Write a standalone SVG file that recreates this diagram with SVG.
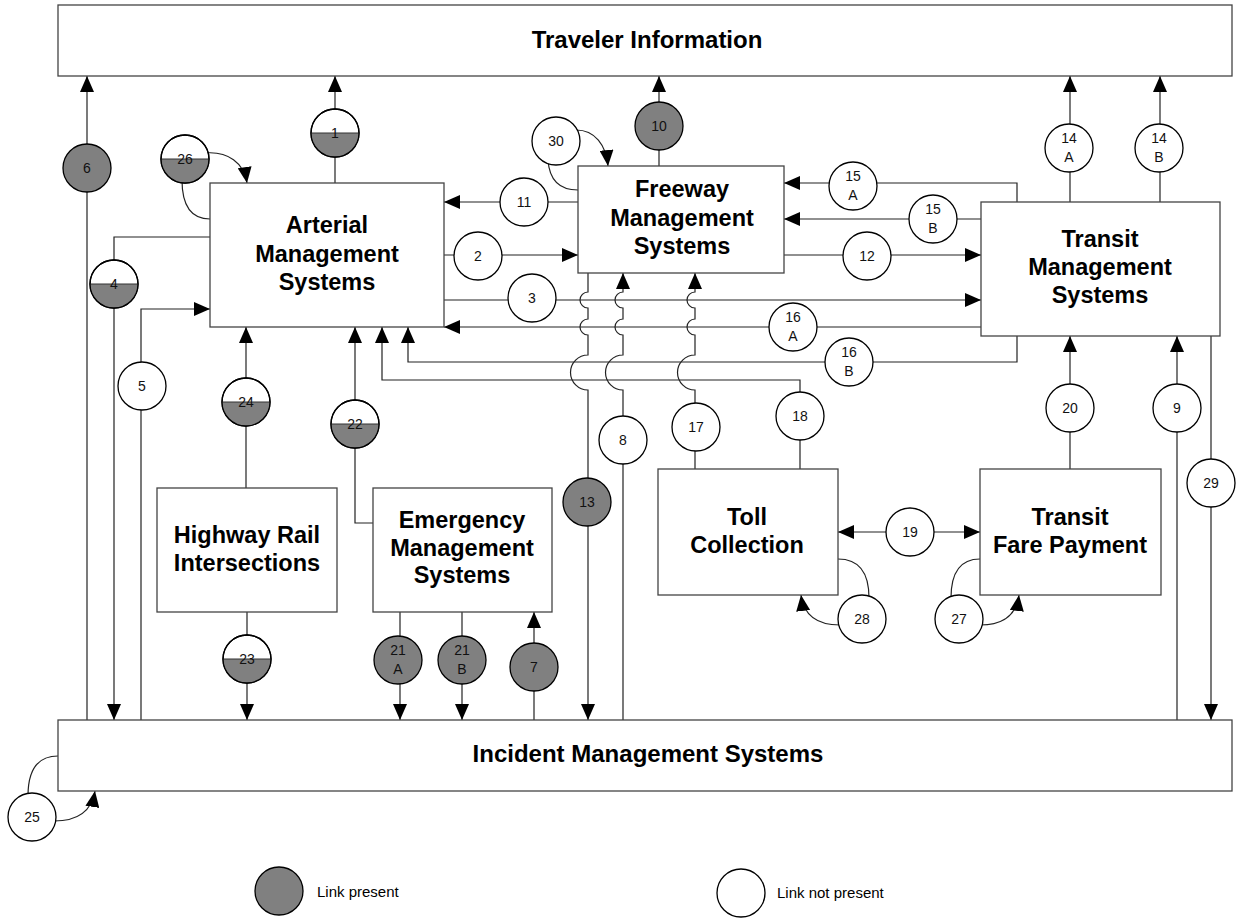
<svg xmlns="http://www.w3.org/2000/svg" width="1243" height="920" viewBox="0 0 1243 920">
<style>
.box{fill:#fff;stroke:#444;stroke-width:1.3}
.bt{font-family:"Liberation Sans",Arial,sans-serif;font-weight:bold;font-size:23.5px;fill:#000;text-anchor:middle}
.c{fill:none;stroke:#222;stroke-width:1.2}
.ce{fill:#fff;stroke:#000;stroke-width:1.3}
.cd{fill:#808080;stroke:#000;stroke-width:1.3}
.hf{fill:#808080;stroke:none}
.hl{stroke:#333;stroke-width:1.2}
.lt{font-family:"Liberation Sans",Arial,sans-serif;font-size:14px;fill:#111;text-anchor:middle}
.lg{font-family:"Liberation Sans",Arial,sans-serif;font-size:15px;fill:#000}
</style>
<defs>
<marker id="ah" markerWidth="16" markerHeight="14" refX="16" refY="7" orient="auto-start-reverse" markerUnits="userSpaceOnUse"><path d="M0,0 L16,7 L0,14 z" fill="#000"/></marker>
</defs>
<rect width="1243" height="920" fill="#fff"/>

<g id="connectors">
<path class="c" d="M87,720 V76" marker-end="url(#ah)"/>
<path class="c" d="M335,183 V76" marker-end="url(#ah)"/>
<path class="c" d="M205,153 C228,151 244,163 247,183" marker-end="url(#ah)"/>
<path class="c" d="M182,180 Q182,219 210,219"/>
<path class="c" d="M210,237 H114 V720" marker-end="url(#ah)"/>
<path class="c" d="M141,720 V309 H210" marker-end="url(#ah)"/>
<path class="c" d="M246,488 V327" marker-end="url(#ah)"/>
<path class="c" d="M373,523 H355 V327" marker-end="url(#ah)"/>
<path class="c" d="M800,469 V380 H382 V327" marker-end="url(#ah)"/>
<path class="c" d="M1017,336 V362 H408 V327" marker-end="url(#ah)"/>
<path class="c" d="M578,202 H444" marker-end="url(#ah)"/>
<path class="c" d="M444,255 H578" marker-end="url(#ah)"/>
<path class="c" d="M444,300 H981" marker-end="url(#ah)"/>
<path class="c" d="M981,327 H444" marker-end="url(#ah)"/>
<path class="c" d="M576,130 C595,130 606,145 608,166" marker-end="url(#ah)"/>
<path class="c" d="M548,160 Q550,190 578,190"/>
<path class="c" d="M659,166 V76" marker-end="url(#ah)"/>
<path class="c" d="M784,255 H981" marker-end="url(#ah)"/>
<path class="c" d="M1017,202 V183 H784" marker-end="url(#ah)"/>
<path class="c" d="M981,219 H784" marker-end="url(#ah)"/>
<path class="c" d="M1070,202 V76" marker-end="url(#ah)"/>
<path class="c" d="M1160,202 V76" marker-end="url(#ah)"/>
<path class="c" d="M588,273 V292 A8,8 0 0 0 588,308 V319 A8,8 0 0 0 588,335 V355 A17.5,17.5 0 0 0 588,390 V720" marker-end="url(#ah)"/>
<path class="c" d="M623,720 V390 A17.5,17.5 0 0 1 623,355 V335 A8,8 0 0 1 623,319 V308 A8,8 0 0 1 623,292 V273" marker-end="url(#ah)"/>
<path class="c" d="M695,469 V390 A17.5,17.5 0 0 1 695,355 V335 A8,8 0 0 1 695,319 V308 A8,8 0 0 1 695,292 V273" marker-end="url(#ah)"/>
<path class="c" d="M1070,469 V336" marker-end="url(#ah)"/>
<path class="c" d="M1177,720 V336" marker-end="url(#ah)"/>
<path class="c" d="M1211,336 V720" marker-end="url(#ah)"/>
<path class="c" d="M838,532 H980" marker-start="url(#ah)" marker-end="url(#ah)"/>
<path class="c" d="M869,598 Q869,559 838,559"/>
<path class="c" d="M840,625 Q805,625 801,595" marker-end="url(#ah)"/>
<path class="c" d="M951,598 Q951,559 980,559"/>
<path class="c" d="M980,625 Q1015,625 1019,595" marker-end="url(#ah)"/>
<path class="c" d="M534,720 V612" marker-end="url(#ah)"/>
<path class="c" d="M400,612 V720" marker-end="url(#ah)"/>
<path class="c" d="M462,612 V720" marker-end="url(#ah)"/>
<path class="c" d="M247,612 V720" marker-end="url(#ah)"/>
<path class="c" d="M28,796 Q28,756 58,756"/>
<path class="c" d="M54,821 Q90,821 95,791" marker-end="url(#ah)"/>
</g>

<g id="link-labels">
<g id="l6"><circle class="cd" cx="87" cy="168" r="24"/><text class="lt" x="87" y="173">6</text></g>
<g id="l1"><circle class="ce" cx="335" cy="133" r="24"/><path class="hf" d="M311,133 A24,24 0 0 0 359,133 Z"/><line class="hl" x1="311" y1="133" x2="359" y2="133"/><circle cx="335" cy="133" r="24" fill="none" stroke="#000" stroke-width="1.3"/><text class="lt" x="335" y="138">1</text></g>
<g id="l26"><circle class="ce" cx="185" cy="159" r="24"/><path class="hf" d="M161,159 A24,24 0 0 0 209,159 Z"/><line class="hl" x1="161" y1="159" x2="209" y2="159"/><circle cx="185" cy="159" r="24" fill="none" stroke="#000" stroke-width="1.3"/><text class="lt" x="185" y="164">26</text></g>
<g id="l4"><circle class="ce" cx="114" cy="284" r="24"/><path class="hf" d="M90,284 A24,24 0 0 0 138,284 Z"/><line class="hl" x1="90" y1="284" x2="138" y2="284"/><circle cx="114" cy="284" r="24" fill="none" stroke="#000" stroke-width="1.3"/><text class="lt" x="114" y="289">4</text></g>
<g id="l5"><circle class="ce" cx="142" cy="386" r="24"/><text class="lt" x="142" y="391">5</text></g>
<g id="l24"><circle class="ce" cx="246" cy="402" r="24"/><path class="hf" d="M222,402 A24,24 0 0 0 270,402 Z"/><line class="hl" x1="222" y1="402" x2="270" y2="402"/><circle cx="246" cy="402" r="24" fill="none" stroke="#000" stroke-width="1.3"/><text class="lt" x="246" y="407">24</text></g>
<g id="l22"><circle class="ce" cx="355" cy="424" r="24"/><path class="hf" d="M331,424 A24,24 0 0 0 379,424 Z"/><line class="hl" x1="331" y1="424" x2="379" y2="424"/><circle cx="355" cy="424" r="24" fill="none" stroke="#000" stroke-width="1.3"/><text class="lt" x="355" y="429">22</text></g>
<g id="l23"><circle class="ce" cx="247" cy="659" r="24"/><path class="hf" d="M223,659 A24,24 0 0 0 271,659 Z"/><line class="hl" x1="223" y1="659" x2="271" y2="659"/><circle cx="247" cy="659" r="24" fill="none" stroke="#000" stroke-width="1.3"/><text class="lt" x="247" y="664">23</text></g>
<g id="l11"><circle class="ce" cx="524" cy="202" r="24"/><text class="lt" x="524" y="207">11</text></g>
<g id="l2"><circle class="ce" cx="478" cy="256" r="24"/><text class="lt" x="478" y="261">2</text></g>
<g id="l3"><circle class="ce" cx="532" cy="298" r="24"/><text class="lt" x="532" y="303">3</text></g>
<g id="l30"><circle class="ce" cx="556" cy="141" r="24"/><text class="lt" x="556" y="146">30</text></g>
<g id="l10"><circle class="cd" cx="659" cy="126" r="24"/><text class="lt" x="659" y="131">10</text></g>
<g id="l12"><circle class="ce" cx="867" cy="256" r="24"/><text class="lt" x="867" y="261">12</text></g>
<g id="l15a"><circle class="ce" cx="853" cy="186" r="24"/><text class="lt" x="853" y="181">15</text><text class="lt" x="853" y="200">A</text></g>
<g id="l15b"><circle class="ce" cx="933" cy="219" r="24"/><text class="lt" x="933" y="214">15</text><text class="lt" x="933" y="233">B</text></g>
<g id="l16a"><circle class="ce" cx="793" cy="327" r="24"/><text class="lt" x="793" y="322">16</text><text class="lt" x="793" y="341">A</text></g>
<g id="l16b"><circle class="ce" cx="849" cy="362" r="24"/><text class="lt" x="849" y="357">16</text><text class="lt" x="849" y="376">B</text></g>
<g id="l14a"><circle class="ce" cx="1069" cy="148" r="24"/><text class="lt" x="1069" y="143">14</text><text class="lt" x="1069" y="162">A</text></g>
<g id="l14b"><circle class="ce" cx="1159" cy="148" r="24"/><text class="lt" x="1159" y="143">14</text><text class="lt" x="1159" y="162">B</text></g>
<g id="l13"><circle class="cd" cx="587" cy="502" r="24"/><text class="lt" x="587" y="507">13</text></g>
<g id="l8"><circle class="ce" cx="623" cy="440" r="24"/><text class="lt" x="623" y="445">8</text></g>
<g id="l17"><circle class="ce" cx="696" cy="427" r="24"/><text class="lt" x="696" y="432">17</text></g>
<g id="l18"><circle class="ce" cx="800" cy="416" r="24"/><text class="lt" x="800" y="421">18</text></g>
<g id="l20"><circle class="ce" cx="1070" cy="408" r="24"/><text class="lt" x="1070" y="413">20</text></g>
<g id="l9"><circle class="ce" cx="1177" cy="408" r="24"/><text class="lt" x="1177" y="413">9</text></g>
<g id="l29"><circle class="ce" cx="1211" cy="483" r="24"/><text class="lt" x="1211" y="488">29</text></g>
<g id="l19"><circle class="ce" cx="910" cy="532" r="24"/><text class="lt" x="910" y="537">19</text></g>
<g id="l28"><circle class="ce" cx="862" cy="619" r="24"/><text class="lt" x="862" y="624">28</text></g>
<g id="l27"><circle class="ce" cx="959" cy="619" r="24"/><text class="lt" x="959" y="624">27</text></g>
<g id="l7"><circle class="cd" cx="534" cy="667" r="24"/><text class="lt" x="534" y="672">7</text></g>
<g id="l21a"><circle class="cd" cx="398" cy="660" r="24"/><text class="lt" x="398" y="655">21</text><text class="lt" x="398" y="674">A</text></g>
<g id="l21b"><circle class="cd" cx="462" cy="660" r="24"/><text class="lt" x="462" y="655">21</text><text class="lt" x="462" y="674">B</text></g>
<g id="l25"><circle class="ce" cx="32" cy="817" r="24"/><text class="lt" x="32" y="822">25</text></g>
</g>

<g id="traveler-information"><rect class="box" x="58" y="5" width="1174" height="71"/><text class="bt" x="647" y="48" style="font-size:24px">Traveler Information</text></g>
<g id="arterial"><rect class="box" x="210" y="183" width="234" height="144"/><text class="bt" x="327" y="233">Arterial</text><text class="bt" x="327" y="262">Management</text><text class="bt" x="327" y="290">Systems</text></g>
<g id="freeway"><rect class="box" x="578" y="166" width="206" height="107"/><text class="bt" x="682" y="197">Freeway</text><text class="bt" x="682" y="226">Management</text><text class="bt" x="682" y="254">Systems</text></g>
<g id="transit-mgmt"><rect class="box" x="981" y="202" width="239" height="134"/><text class="bt" x="1100" y="247">Transit</text><text class="bt" x="1100" y="275">Management</text><text class="bt" x="1100" y="303">Systems</text></g>
<g id="highway-rail"><rect class="box" x="157" y="488" width="180" height="124"/><text class="bt" x="247" y="543">Highway Rail</text><text class="bt" x="247" y="571">Intersections</text></g>
<g id="emergency"><rect class="box" x="373" y="488" width="179" height="124"/><text class="bt" x="462" y="528">Emergency</text><text class="bt" x="462" y="556">Management</text><text class="bt" x="462" y="583">Systems</text></g>
<g id="toll"><rect class="box" x="658" y="469" width="180" height="126"/><text class="bt" x="747" y="525">Toll</text><text class="bt" x="747" y="553">Collection</text></g>
<g id="transit-fare"><rect class="box" x="980" y="469" width="181" height="126"/><text class="bt" x="1070" y="525">Transit</text><text class="bt" x="1070" y="553">Fare Payment</text></g>
<g id="incident"><rect class="box" x="58" y="720" width="1174" height="71"/><text class="bt" x="648" y="762" style="font-size:24px">Incident Management Systems</text></g>

<g id="legend">
<circle class="cd" cx="279" cy="891" r="24"/><text class="lg" x="317" y="897">Link present</text>
<circle class="ce" cx="741" cy="893" r="24"/><text class="lg" x="777" y="898">Link not present</text>
</g>
</svg>
